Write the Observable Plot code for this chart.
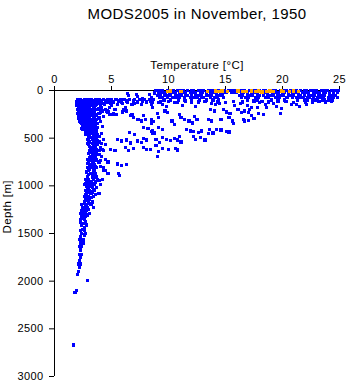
<!DOCTYPE html>
<html><head><meta charset="utf-8">
<script src="https://cdn.jsdelivr.net/npm/d3@7"></script>
<script src="https://cdn.jsdelivr.net/npm/@observablehq/plot@0.6"></script>
<style>
body{margin:0;background:#fff}
#chart svg text{letter-spacing:0.4px}
</style>
</head><body><div id="chart"></div>
<script>
const chartTitle = "MODS2005 in November, 1950";
const xLabel = "Temperature [°C]";
const yLabel = "Depth [m]";
const xTicks = [0, 5, 10, 15, 20, 25];
const yTicks = [0, 500, 1000, 1500, 2000, 2500, 3000];

// dense surface layer: depth rows and temperatures observed at each
const bandDepths = [0, 25, 50, 75, 100];
const bandTemps = [
  [8.9,9.2,9.5,9.9,10.2,10.4,10.8,11.1,11.3,11.7,12.0,12.2,12.6,12.9,13.1,13.5,13.8,14.0,14.4,14.7,14.9,15.3,15.6,15.8,16.2,16.5,16.7,17.1,17.4,17.6,18.0,18.3,18.5,18.9,19.2,19.4,19.8,20.1,20.3,20.7,21.0,21.2,21.6,21.9,22.1,22.5,22.8,23.0,23.4,23.7,23.9,24.3,24.6,24.9],
  [8.8,9.1,9.4,9.7,10.1,10.3,10.6,11.0,11.2,11.5,11.9,12.1,12.4,12.8,13.0,13.3,13.7,13.9,14.2,14.6,14.8,15.1,15.5,15.7,16.0,16.4,16.6,16.9,17.3,17.5,17.8,18.2,18.4,18.7,19.1,19.3,19.6,20.0,20.2,20.5,20.9,21.1,21.4,21.8,22.0,22.3,22.7,22.9,23.2,23.6,23.8,24.1,24.5,24.8],
  [9.0,9.3,9.7,9.9,10.2,10.6,10.8,11.1,11.5,11.7,12.0,12.4,12.6,12.9,13.3,13.5,13.8,14.2,14.4,14.7,16.2,16.5,16.9,17.1,17.4,17.8,18.0,18.3,18.7,18.9,19.2,19.6,19.8,20.1,20.5,20.7,21.0,21.4,21.6,21.9,22.3,22.5,22.8,23.2,23.4,23.7,24.1,24.3,24.6],
  [9.2,9.5,9.9,10.4,10.7,11.0,11.4,11.9,12.2,12.5,12.9,13.1,13.7,14.0,14.3,14.8,16.4,16.8,17.0,17.6,17.9,18.5,18.8,19.4,19.7,20.4,20.9,21.2,21.5,21.8,22.2,22.4,22.7,23.1,23.3,23.6,24.0,24.2,24.5,24.8],
  [9.6,10.2,10.9,11.4,12.0,12.7,13.3,13.9,14.4,16.9,17.8,19.0,20.2,21.9,22.2,22.6,22.8,23.1,23.5,23.7,24.0,24.4]
];

// cold-water profiles: depth levels and temperatures at each
const coldDepths = [95,120,150,175,200,225,250,275,300,325,350,375,400,425,450,480,510,540,570,600,630,660,690,720,750,780,810,840,870,900,930,960,990,1020,1050,1080,1110,1140,1170,1200,1230,1260,1290,1320,1350,1380,1410,1440,1470,1500,1530,1560,1600,1640,1680,1720,1780,1820,1860,1900,1930,1990,2100,2120,2670];
const coldTemps = [
  [2.0,2.3,2.6,2.9,3.2,3.6,3.9,4.3,4.7,5.0,5.4,5.8,6.1,6.6,7.0,7.5,7.9,8.3,8.7],
  [1.9,2.2,2.5,2.9,3.2,3.5,3.9,4.6,5.2,5.9,6.4,7.3,8.1,8.6],
  [2.0,2.3,2.7,3.0,3.3,3.7,4.4,5.5,6.8,7.6],
  [2.1,2.4,2.7,3.1,3.5,4.1,4.8,6.2],
  [2.0,2.3,2.6,2.9,3.3,3.8,4.5,5.3],
  [2.2,2.5,2.8,3.1,3.4,4.0,4.7,6.0],
  [2.1,2.4,2.7,3.0,3.3,3.6,5.1,6.8],
  [2.2,2.5,2.8,3.1,3.5,4.3],
  [2.3,2.6,2.9,3.2,3.7,7.4],
  [2.2,2.5,2.8,3.1,3.4,4.0],
  [2.4,2.7,3.0,3.3,3.8],
  [2.5,2.8,3.1,3.5,4.2],
  [2.4,2.7,3.0,3.4],
  [2.7,3.0,3.3,3.7],
  [2.8,3.2,3.6,4.1],
  [3.0,3.4,3.9],
  [2.9,3.3,3.7,4.3],
  [3.1,3.5,3.9],
  [3.0,3.4,3.8,4.5],
  [3.2,3.6,4.0],
  [3.1,3.5,3.9,4.3],
  [3.0,3.3,3.7],
  [3.2,3.6,4.1],
  [2.9,3.3,3.7],
  [3.0,3.4,3.9],
  [3.1,3.5],
  [2.9,3.3,3.7],
  [3.0,3.4,4.3],
  [3.2,3.6,4.7,5.6],
  [2.9,3.3,3.7],
  [2.7,3.0,3.4,3.8,4.2],
  [2.8,3.2,3.6],
  [2.6,3.0,3.5,4.0],
  [2.9,3.3,3.7],
  [2.7,3.1,3.5],
  [2.8,3.2,3.9],
  [2.6,3.0,3.4],
  [2.7,3.1],
  [2.6,3.0,3.3],
  [2.4,2.8,3.2],
  [2.5,2.9,3.4],
  [2.4,2.8],
  [2.3,2.7,3.1],
  [2.4,2.7],
  [2.3,2.6],
  [2.3,2.7],
  [2.4,2.8],
  [2.6],
  [2.3,2.6],
  [2.4,2.7],
  [2.3],
  [2.2,2.5],
  [2.3,2.5],
  [2.2,2.4],
  [2.3],
  [2.2,2.4],
  [2.2],
  [2.1,2.3],
  [2.2],
  [2.1],
  [2.0],
  [2.9],
  [1.9],
  [1.8],
  [1.7]
];

// more cold-water observations between those levels
const interDepths = [110,135,160,188,212,238,262,288,312,338,362,388,412,438,465,495,525,555,585,615,645,675,705,735,765,795,825,855,885,915,945,975,1005,1035,1065,1095,1125,1155,1185,1215,1245,1275,1305,1340,1395,1455,1515,1580,1660,1750];
const interTemps = [
  [2.1,2.4,2.8,3.1,3.4,3.8,4.1,4.5,4.9,5.6,6.3,6.9,7.7,8.4],
  [2.1,2.4,2.8,3.1,3.4,3.8,4.2,4.9,6.0,7.0],
  [1.9,2.2,2.5,2.9,3.2,3.6,4.0,5.0],
  [2.2,2.5,2.8,3.0,3.4,3.9],
  [2.1,2.4,2.8,3.2,3.5,4.2],
  [2.0,2.3,2.6,2.9,3.2,3.5,3.9],
  [2.3,2.6,2.9,3.3,3.7],
  [2.1,2.4,2.7,3.0,3.4,3.9],
  [2.4,2.7,3.0,3.5],
  [2.3,2.6,2.9,3.2,3.6],
  [2.5,2.9,3.2,3.6],
  [2.6,2.9,3.3,3.8],
  [2.5,2.8,3.2,3.5],
  [2.9,3.1,3.5],
  [2.7,3.1,3.5,3.8],
  [3.2,3.6],
  [3.0,3.4,3.8],
  [2.9,3.3,3.7,4.1],
  [3.1,3.5],
  [3.3,3.7,4.2],
  [3.2,3.6],
  [3.4,3.9],
  [3.1,3.5],
  [3.2,3.6,4.0],
  [2.9,3.3],
  [3.2,3.6,4.0],
  [3.1,3.5],
  [2.8,3.5],
  [3.0,3.4],
  [2.9,3.3,3.6],
  [3.0,3.9],
  [2.7,3.1,3.3],
  [2.8,3.2],
  [3.0,3.4],
  [2.9,3.3],
  [2.7,3.6],
  [2.9,3.2],
  [2.8],
  [2.6,3.1],
  [2.7],
  [2.6,3.0],
  [2.5],
  [2.5,2.9],
  [2.5],
  [2.5],
  [2.5],
  [2.6],
  [2.4],
  [2.3],
  [2.3]
];

// scattered thermocline observations [temperature, depth]
const thermocline = [
  [6.4,30],[6.5,55],[7.2,40],[7.3,60],[7.7,80],[8.3,40],[8.5,70],[8.8,30],
  [8.5,150],[8.6,180],[9.1,130],[9.5,150],[9.8,165],[10.5,130],[9.0,240],[9.1,280],[9.7,215],[9.9,235],
  [11.0,250],[11.1,280],[11.4,300],[11.8,320],[12.1,340],[12.3,270],[12.5,300],[10.3,320],[10.5,360],
  [8.5,350],[9.1,390],[9.5,410],[8.5,430],[8.6,455],[11.6,410],[11.9,425],[12.2,430],[12.6,440],[12.9,425],
  [13.6,405],[14.2,410],[14.6,415],[13.5,450],[13.9,445],[15.1,430],[15.3,435],[13.7,200],[14.0,215],
  [14.8,200],[15.1,225],[15.4,240],[13.5,300],[13.8,320],[14.6,300],[15.3,285],[15.6,320],[15.7,345],
  [16.1,200],[16.4,230],[16.7,215],[16.6,305],[17.0,315],[13.8,135],[14.1,145],[14.5,140],[16.3,140],
  [16.9,160],[17.1,200],[17.0,235],[17.5,295],[16.7,320],[18.0,130],[18.5,150],[19.2,140],[20.8,145],
  [21.2,150],[17.3,180],[17.8,175],[19.5,165],[17.9,245],[18.3,255],[19.8,240],[21.5,165],[22.1,150],[17.3,260],
  [9.3,120],[10.0,115],[10.8,125],[11.5,110],[12.0,130],[12.6,120],[13.2,115],[14.3,120],[15.0,125],
  [15.7,115],[16.5,120],[17.5,110],[18.2,115],[18.8,120],[19.6,110],[20.3,115],[21.0,125],[11.2,160],
  [12.4,170],[15.8,160],[18.6,180],[19.9,190],[21.3,105],[22.0,120],[22.6,125],[23.2,115],[23.8,120],[24.3,110],
  [8.9,510],[9.2,545],[9.5,490],[9.8,510],[10.2,525],[10.5,505],[10.8,520],[11.0,485],[11.1,540],
  [12.2,480],[12.4,510],[12.8,495],[13.2,520],[8.9,580],[9.1,640],[9.5,610],[10.0,615],[10.6,605],[10.8,625],[9.0,690],
  [4.0,180],[4.2,220],[4.6,215],[4.8,250],[5.2,240],[5.4,255],[6.1,205],[6.3,215],[6.7,260],[6.9,285],
  [7.3,300],[7.6,320],[7.8,265],[8.0,300],[8.5,310],[8.7,325],[7.8,390],[8.2,400],[8.6,420],[8.8,445],
  [6.6,440],[7.0,460],[5.5,510],[5.9,530],[6.3,520],[6.7,550],[7.3,530],[7.6,545],[7.8,505],[8.1,520],
  [6.2,600],[6.5,630],[6.9,610],[7.8,600],[8.1,615],[8.4,620],[4.9,615],[5.3,630],[4.5,720],[4.7,750],
  [5.5,770],[5.9,790],[6.3,780],[4.3,810],[4.5,835],[5.7,890]
];

// surface observations shown in orange
const orangeTemps = [9.9,10.2,11.1,13.4,14.1,14.4,14.7,15.2,16.1,16.5,16.8,17.3,17.6,17.9,18.2,18.6,18.9,19.2,19.9,20.1,20.6,21.0,21.4];
const orangeDepths = [8,5,10,8,5,12,6,10,5,8,12,6,10,5,15,8,5,10,6,12,8,5,10];

const blue = [];
bandDepths.forEach((d, i) => bandTemps[i].forEach(t => blue.push({t, d})));
coldDepths.forEach((d, i) => coldTemps[i].forEach(t => blue.push({t, d})));
interDepths.forEach((d, i) => interTemps[i].forEach(t => blue.push({t, d})));
thermocline.forEach(([t, d]) => blue.push({t, d}));
const orange = orangeTemps.map((t, i) => ({t, d: orangeDepths[i]}));

const font = "'Liberation Sans', Arial, Helvetica, sans-serif";
const chart = Plot.plot({
  width: 348, height: 384,
  marginLeft: 54, marginRight: 9, marginTop: 90, marginBottom: 8,
  x: {domain: [0, 25]},
  y: {domain: [0, 3000], reverse: true},
  style: {fontFamily: font, fontSize: "11px", background: "#fff", color: "#000"},
  marks: [
    Plot.ruleY([0], {stroke: "#000"}),
    Plot.ruleX([0], {stroke: "#000"}),
    Plot.axisX({anchor: "top", ticks: xTicks, tickFormat: "d", tickSize: 5, tickPadding: 3, label: null}),
    Plot.axisY({anchor: "left", ticks: yTicks, tickFormat: "d", tickSize: 5, tickPadding: 6, label: null}),
    Plot.dot(blue, {x: "t", y: "d", symbol: "square", r: 1.8, fill: "#0000ff", shapeRendering: "crispEdges"}),
    Plot.dot(orange, {x: "t", y: "d", symbol: "square", r: 1.8, fill: "#ffa500", shapeRendering: "crispEdges"}),
    Plot.text([chartTitle], {frameAnchor: "top", dy: -82, fontSize: 15}),
    Plot.text([xLabel], {frameAnchor: "top", dy: -30, fontSize: 11.5}),
    Plot.text([yLabel], {frameAnchor: "left", dx: -47, rotate: -90, fontSize: 11.5})
  ]
});
document.getElementById("chart").append(chart);
</script>
</body></html>
